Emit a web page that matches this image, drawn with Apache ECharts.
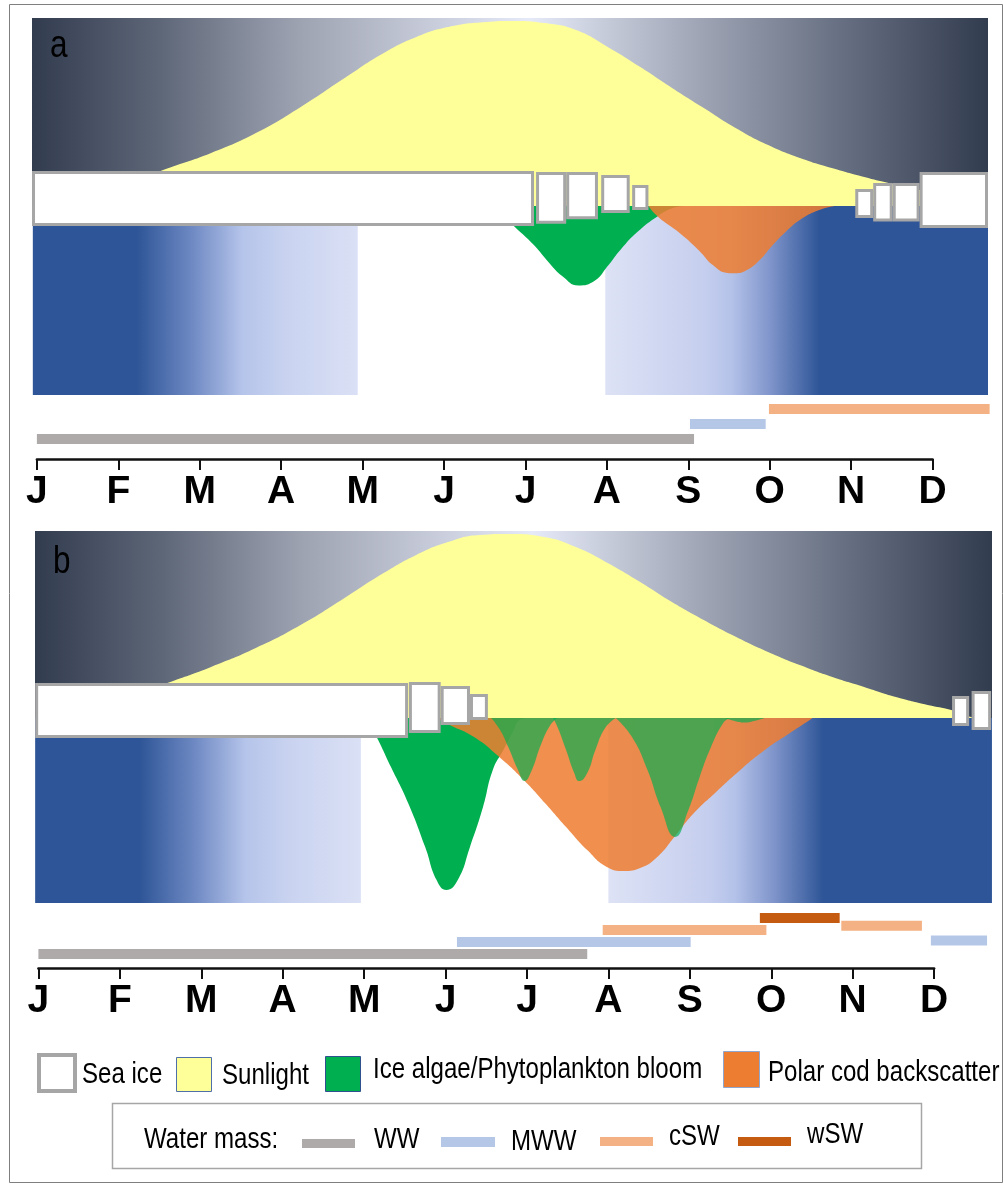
<!DOCTYPE html>
<html>
<head>
<meta charset="utf-8">
<title>Seasonal cycle: sea ice, sunlight, blooms and polar cod</title>
<script src="https://cdn.jsdelivr.net/npm/echarts@6/dist/echarts.min.js"></script>
<style>
  html, body { margin: 0; padding: 0; background: #ffffff; }
  #chart { width: 1003px; height: 1185px; }
</style>
</head>
<body>
<div id="chart"></div>
<script>
// ---------- data (x = months since 1 January, heights/depths in % of panel half) ----------
const monthLabels = ['J', 'F', 'M', 'A', 'M', 'J', 'J', 'A', 'S', 'O', 'N', 'D'];

// Panel a
const sunA = [[0.6, 6], [1.2, 13], [1.55, 19.1], [2.14, 28.2], [2.69, 38.8], [3.24, 52.7], [3.78, 68.1],
  [4.26, 81.4], [4.66, 89.9], [5.05, 95.2], [5.52, 97.9], [5.84, 98.4], [6.23, 97.3], [6.62, 93.6],
  [7.01, 84.6], [7.41, 73.9], [7.80, 62.8], [8.19, 52.1], [8.58, 41.5], [8.98, 32.4], [9.37, 25.5],
  [9.76, 20.2], [10.16, 15.4], [10.46, 12.2], [10.8, 9], [11.05, 5], [11.3, 0]];
// sea ice floes: [start, end, freeboard, draft]
const iceA = [[-0.06, 6.105, 18.6, -10.6], [6.13, 6.50, 18.1, -9.5], [6.50, 6.89, 18.1, -7.1],
  [6.93, 7.28, 16.5, -3.7], [7.31, 7.51, 11.2, -2.1],
  [10.05, 10.27, 9.0, -6.4], [10.27, 10.51, 12.2, -8.2], [10.51, 10.84, 12.2, -8.2], [10.84, 11.68, 18.1, -11.7]];
const openWaterA = [[-0.05, 3.94], [6.98, 11.68]];
const bloomA = [[5.6, 0], [5.87, 11.1], [6.1, 20.5], [6.3, 30.5], [6.45, 37], [6.65, 42], [6.85, 39.5],
  [7.0, 32.3], [7.17, 23], [7.38, 13.5], [7.62, 5.5], [7.8, 1.2], [7.95, 0]];
const codA = [[7.51, 0], [7.63, 5.8], [7.90, 14.5], [8.13, 23.5], [8.30, 31.2], [8.48, 35.4], [8.57, 35.6],
  [8.72, 33.9], [8.88, 28.5], [9.0, 22.5], [9.2, 13.5], [9.4, 6.5], [9.6, 2.2], [9.80, 0]];
// water masses: [name, start, end, row]
const massA = [['WW', 0, 8.07, 0], ['MWW', 8.02, 8.95, 1], ['cSW', 8.99, 11.7, 2]];

// Panel b
const sunB = [[0.6, 6], [1.2, 13], [1.62, 19.3], [2.12, 27.3], [2.67, 37.4], [3.22, 49.7], [3.76, 64.2],
  [4.24, 77.5], [4.64, 87.2], [5.03, 94.1], [5.42, 97.9], [5.78, 98.4], [6.21, 96.8], [6.60, 91.4],
  [6.99, 82.9], [7.39, 72.7], [7.78, 62.0], [8.17, 52.4], [8.57, 43.3], [8.96, 35.3], [9.35, 28.3],
  [9.75, 21.9], [10.14, 16.6], [10.53, 11.2], [10.92, 7.0], [11.21, 4.3], [11.38, 1.5], [11.5, 0]];
const iceB = [[-0.04, 4.54, 18.7, -10.7], [4.55, 4.94, 19.3, -8.0], [4.94, 5.30, 17.1, -3.7],
  [5.30, 5.52, 12.8, -1.1], [11.22, 11.43, 11.8, -4.3], [11.46, 11.70, 14.4, -6.4]];
const openWaterB = [[-0.04, 3.96], [7.0, 11.71]];
const bloomUnderIceB = [[3.95, 0], [4.07, 3.8], [4.16, 10.8], [4.33, 26.5], [4.54, 45.9], [4.75, 69.7],
  [4.89, 87.6], [5.01, 93.0], [5.15, 87.6], [5.30, 69.7], [5.46, 48.1], [5.58, 28.1], [5.71, 17.3],
  [5.82, 8.1], [5.91, 1.1], [6.01, 0]];
const bloomPulsesB = [
  [[5.56, 0], [5.67, 6.5], [5.77, 15.7], [5.89, 28.1], [5.97, 34.1], [6.05, 29.2], [6.17, 14.6], [6.28, 4.3], [6.37, 0]],
  [[6.32, 0], [6.38, 5.4], [6.48, 17.3], [6.58, 29.7], [6.64, 34.1], [6.74, 29.7], [6.84, 17.3], [6.96, 5.4], [7.09, 0]],
  [[7.09, 0], [7.29, 10.3], [7.48, 28.1], [7.64, 48], [7.82, 64.3], [7.98, 50], [8.12, 32], [8.26, 15.7], [8.41, 2.7], [8.49, 0]],
  [[8.43, 0], [8.55, 1.6], [8.67, 2.4], [8.79, 1.6], [8.92, 0]]
];
const codB = [[4.88, 0], [5.05, 3.8], [5.35, 10.3], [5.66, 21.1], [5.96, 33.5], [6.22, 45.9], [6.48, 58.9],
  [6.74, 71.4], [6.98, 80.5], [7.19, 82.7], [7.39, 81.1], [7.60, 75.1], [7.81, 64.3], [8.05, 51.4],
  [8.31, 40.5], [8.62, 28.1], [8.92, 17.3], [9.23, 8.1], [9.51, 0]];
const massB = [['WW', 0, 6.74, 0], ['MWW', 5.14, 8.01, 1], ['MWW', 10.96, 11.65, 1.12],
  ['cSW', 6.93, 8.94, 2], ['cSW', 9.86, 10.85, 2.35], ['wSW', 8.86, 9.84, 3]];

// ---------- styling ----------
const SANS = '"Liberation Sans", Arial, Helvetica, sans-serif';
const NARROW_SCALE = 0.83;            // horizontal squeeze applied to key and panel letters
const PX_PER_MONTH = 81.43;
const massColors = { WW: '#AEAAAA', MWW: '#B4C7E7', cSW: '#F4B183', wSW: '#C55A11' };
const G = echarts.graphic.LinearGradient;

function skyGradient() {
  return new G(0, 0, 1, 0, [
    { offset: 0, color: '#323C4F' }, { offset: 0.134, color: '#5E6778' },
    { offset: 0.28, color: '#9EA3B2' }, { offset: 0.52, color: '#E6EAF8' },
    { offset: 0.703, color: '#9DA3B3' }, { offset: 0.837, color: '#6A7385' },
    { offset: 1, color: '#323C4F' }
  ]);
}
function waterGradient(isWinterSide) {
  return isWinterSide
    ? new G(0, 0, 1, 0, [
        { offset: 0, color: '#2E5597' }, { offset: 0.32, color: '#2E5597' },
        { offset: 0.49, color: '#6E89C3' }, { offset: 0.645, color: '#B5C4EA' },
        { offset: 0.78, color: '#C9D3F0' }, { offset: 1, color: '#DAE0F5' }])
    : new G(0, 0, 1, 0, [
        { offset: 0, color: '#DDE2F5' }, { offset: 0.26, color: '#C5CEEE' },
        { offset: 0.33, color: '#B4C2E9' }, { offset: 0.43, color: '#8095CB' },
        { offset: 0.56, color: '#2E5597' }, { offset: 1, color: '#2E5597' }]);
}

const grid = [], xAxis = [], yAxis = [], series = [];

function areaSeries(data, xi, color, opacity, z) {
  return {
    type: 'line', data, xAxisIndex: xi, yAxisIndex: xi, smooth: 0.5, symbol: 'none', silent: true,
    lineStyle: { width: 0, opacity: 0 }, areaStyle: { color, opacity }, z
  };
}

function addPanel(p) {
  const base = grid.length;
  const xMin = (p.left - p.axisLeft) / PX_PER_MONTH;
  const xMax = xMin + p.width / PX_PER_MONTH;
  grid.push(
    { left: p.left, top: p.skyTop, width: p.width, height: p.skyH, show: true, borderWidth: 0, backgroundColor: skyGradient() },
    { left: p.left, top: p.skyTop + p.skyH, width: p.width, height: p.waterH },
    { left: p.left, top: p.barTop, width: p.width, height: p.barH },
    { left: p.axisLeft, top: p.axisY - 1, width: 11 * PX_PER_MONTH, height: 1 }
  );
  for (let i = 0; i < 3; i++) {
    xAxis.push({ type: 'value', gridIndex: base + i, min: xMin, max: xMax, show: false });
  }
  xAxis.push({
    type: 'value', gridIndex: base + 3, min: 0, max: 11, interval: 1, position: 'bottom',
    axisLine: { show: true, onZero: false, lineStyle: { color: '#111', width: 2.5 } },
    axisTick: { show: true, length: 11, lineStyle: { color: '#111', width: 2 } },
    splitLine: { show: false },
    axisLabel: {
      show: true, margin: 14, color: '#000', fontSize: 39, fontWeight: 'bold', fontFamily: SANS,
      formatter: v => monthLabels[Math.round(v)] || ''
    }
  });
  yAxis.push(
    { type: 'value', gridIndex: base, min: 0, max: 100, show: false },
    { type: 'value', gridIndex: base + 1, min: 0, max: 100, inverse: true, show: false },
    { type: 'value', gridIndex: base + 2, min: p.rowMin, max: p.rowMax, show: false },
    { type: 'value', gridIndex: base + 3, min: 0, max: 1, show: false }
  );

  // open water below the surface
  series.push({
    type: 'custom', xAxisIndex: base + 1, yAxisIndex: base + 1, z: 1, silent: true,
    data: p.openWater,
    renderItem: (params, api) => {
      const a = api.coord([api.value(0), 0]);
      const b = api.coord([api.value(1), 100]);
      return { type: 'rect', shape: { x: a[0], y: a[1], width: b[0] - a[0], height: b[1] - a[1] },
        style: { fill: waterGradient(params.dataIndex === 0) } };
    }
  });
  // sunlight
  series.push(areaSeries(p.sun, base, '#FFFF99', 1, 2));
  // blooms and polar cod
  series.push(areaSeries(p.bloom, base + 1, '#00B050', 1, 3));
  series.push(areaSeries(p.cod, base + 1, '#ED7D31', 0.86, 4));
  (p.pulses || []).forEach(d => series.push(areaSeries(d, base + 1, '#00B050', 0.67, 5)));
  // sea ice floes
  series.push({
    type: 'custom', xAxisIndex: base, yAxisIndex: base, z: 8, silent: true, clip: false,
    data: p.ice,
    renderItem: (params, api) => {
      const a = api.coord([api.value(0), api.value(2)]);
      const b = api.coord([api.value(1), api.value(3)]);
      return { type: 'rect', shape: { x: a[0] + 1.5, y: a[1] + 1.5, width: b[0] - a[0] - 3, height: b[1] - a[1] - 3 },
        style: { fill: '#FFFFFF', stroke: '#A6A6A6', lineWidth: 3 } };
    }
  });
  // water-mass bars
  series.push({
    type: 'custom', xAxisIndex: base + 2, yAxisIndex: base + 2, z: 6, silent: true, clip: false,
    data: p.mass.map(d => [d[1], d[2], d[3]]),
    renderItem: (params, api) => {
      const a = api.coord([api.value(0), api.value(2)]);
      const b = api.coord([api.value(1), api.value(2)]);
      return { type: 'rect', shape: { x: a[0], y: a[1] - 5, width: b[0] - a[0], height: 10 },
        style: { fill: massColors[p.mass[params.dataIndex][0]] } };
    }
  });
}

addPanel({ left: 32, width: 956, axisLeft: 36.9, skyTop: 18, skyH: 188, waterH: 189,
  barTop: 400, barH: 50, rowMin: -0.7333, rowMax: 2.6, axisY: 459,
  sun: sunA, ice: iceA, openWater: openWaterA, bloom: bloomA, cod: codA, mass: massA });
addPanel({ left: 35, width: 957, axisLeft: 38.4, skyTop: 531, skyH: 187, waterH: 185,
  barTop: 905, barH: 55, rowMin: -0.5, rowMax: 4.0833, axisY: 968,
  sun: sunB, ice: iceB, openWater: openWaterB, bloom: bloomUnderIceB, pulses: bloomPulsesB, cod: codB, mass: massB });

// ---------- frame, panel letters and key ----------
const LF = '29px ' + SANS;
function label(text, x, y, font) {
  return { type: 'text', z: 100, silent: true, x, y, scaleX: NARROW_SCALE,
    style: { text, x: 0, y: 0, font: font || LF, fill: '#000', align: 'left', verticalAlign: 'middle' } };
}
function swatch(x, y, w, h, fill, stroke, lw) {
  return { type: 'rect', z: 100, silent: true, shape: { x, y, width: w, height: h }, style: { fill, stroke, lineWidth: lw } };
}
const graphic = [
  { type: 'rect', z: 100, silent: true, shape: { x: 9.5, y: 4.5, width: 993, height: 1178 }, style: { fill: 'none', stroke: '#7F7F7F', lineWidth: 1 } },
  label('a', 50, 47, '38px ' + SANS),
  label('b', 53, 563, '38px ' + SANS),
  swatch(39, 1055, 36, 36, '#FFFFFF', '#A6A6A6', 4),
  label('Sea ice', 82, 1075),
  swatch(176.5, 1057.5, 35, 34, '#FFFF99', '#4F6FA8', 1),
  label('Sunlight', 222, 1076),
  swatch(325.5, 1056.5, 35, 35, '#00B050', '#2F528F', 1),
  label('Ice algae/Phytoplankton bloom', 373, 1070),
  swatch(723.5, 1051.5, 36, 36, '#ED7D31', '#8FA6CF', 1),
  label('Polar cod backscatter', 768, 1073),
  swatch(112.5, 1103.5, 809, 65, 'none', '#A6A6A6', 1.5),
  label('Water mass:', 144, 1140),
  swatch(302, 1139, 53, 9, massColors.WW, null, 0),
  label('WW', 374, 1140),
  swatch(441, 1137, 54, 10, massColors.MWW, null, 0),
  label('MWW', 511, 1142),
  swatch(600, 1137, 53, 9, massColors.cSW, null, 0),
  label('cSW', 669, 1137),
  swatch(738, 1137, 53, 9, massColors.wSW, null, 0),
  label('wSW', 807, 1135)
];

const chart = echarts.init(document.getElementById('chart'), null, { renderer: 'canvas', width: 1003, height: 1185 });
chart.setOption({
  backgroundColor: '#FFFFFF',
  animation: false,
  grid, xAxis, yAxis, series, graphic
});
</script>
</body>
</html>
